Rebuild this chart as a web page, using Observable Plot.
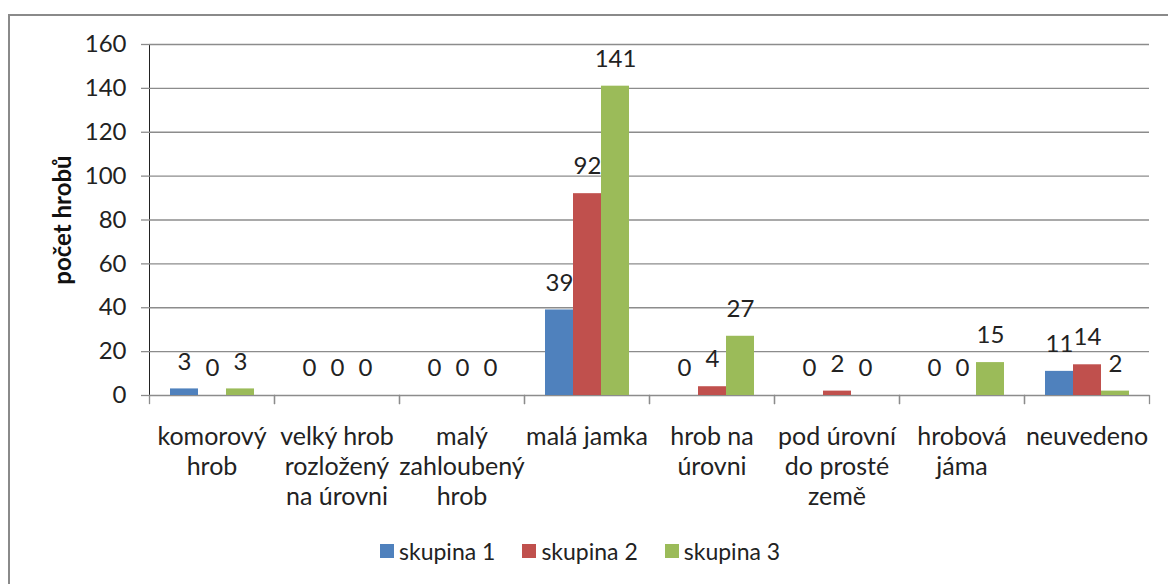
<!DOCTYPE html>
<html>
<head>
<meta charset="utf-8">
<script src="https://cdn.jsdelivr.net/npm/d3@7"></script>
<script src="https://cdn.jsdelivr.net/npm/@observablehq/plot@0.6"></script>
<style>
  html, body { margin: 0; padding: 0; background: #fff; overflow: hidden; }
  body { width: 1168px; height: 584px; position: relative; font-family: Lato, "Open Sans", sans-serif; }
  #frame { position: absolute; left: 8px; top: 14px; width: 1200px; height: 620px; border: 2px solid #8a8a8a; box-sizing: border-box; }
  #chart { position: absolute; left: 0; top: 0; }
  #ytitle { position: absolute; left: 61px; top: 220px; transform: translate(-50%, -50%) rotate(-90deg); white-space: nowrap; font-size: 24px; font-weight: bold; color: #111; }
  #legend { position: absolute; left: 380px; top: 537px; display: flex; align-items: center; font-size: 23px; color: #222; }
  .item { display: flex; align-items: center; margin-right: 27px; }
  .sw { width: 14px; height: 14px; margin-right: 5px; }
</style>
</head>
<body>
<div id="frame"></div>
<div id="chart"></div>
<div id="ytitle">počet hrobů</div>
<div id="legend"></div>
<script>
const categories = ["komorový hrob", "velký hrob rozložený na úrovni", "malý zahloubený hrob", "malá jamka", "hrob na úrovni", "pod úrovní do prosté země", "hrobová jáma", "neuvedeno"];
const categoryLabels = ["komorový\nhrob", "velký hrob\nrozložený\nna úrovni", "malý\nzahloubený\nhrob", "malá jamka", "hrob na\núrovni", "pod úrovní\ndo prosté\nzemě", "hrobová\njáma", "neuvedeno"];
const series = ["skupina 1", "skupina 2", "skupina 3"];
const skupina1 = [3, 0, 0, 39, 0, 0, 0, 11];
const skupina2 = [0, 0, 0, 92, 4, 2, 0, 14];
const skupina3 = [3, 0, 0, 141, 27, 0, 15, 2];
const colors = ["#4F81BD", "#C0504D", "#9BBB59"];
const yTicks = [0, 20, 40, 60, 80, 100, 120, 140, 160];

const values = [skupina1, skupina2, skupina3];
const data = [];
categories.forEach((c, i) => series.forEach((s, j) => data.push({category: c, series: s, value: values[j][i]})));
const labelOf = new Map(categories.map((c, i) => [c, categoryLabels[i]]));

const W = 1168, H = 525, mt = 44, mb = H - 395, ml = 148, mr = 18;
const grid = "#8c8c8c";

const chart = Plot.plot({
  width: W, height: H,
  marginTop: mt, marginBottom: mb, marginLeft: ml, marginRight: mr,
  style: {fontFamily: "Lato, 'Open Sans', sans-serif", fontSize: "24px", color: "#222", background: "transparent"},
  fx: {domain: categories, padding: 0, label: null, axis: null},
  x: {domain: series, paddingInner: 0, paddingOuter: 0.73, axis: null},
  y: {domain: [0, 160], label: null, ticks: yTicks, tickSize: 8, tickPadding: 15, line: true, tickFormat: d => d, fontSize: 24},
  color: {domain: series, range: colors},
  marks: [
    Plot.ruleY(yTicks, {stroke: grid, strokeWidth: 1.3}),
    Plot.frame({anchor: "left", stroke: grid, strokeWidth: 1.3, insetTop: H - mt - mb, insetBottom: -8}),
    Plot.frame({anchor: "right", stroke: grid, strokeWidth: 1.3, insetTop: H - mt - mb, insetBottom: -8}),
    Plot.barY(data, {fx: "category", x: "series", y: "value", fill: "series"}),
    Plot.text(data, {fx: "category", x: "series", y: "value", text: d => String(d.value), dy: -27, fill: "#222", fontSize: 24, lineAnchor: "middle"}),
    Plot.axisFx({anchor: "bottom", tickSize: 0, tickPadding: 28, fontSize: 25, lineHeight: 1.2, tickFormat: c => labelOf.get(c), label: null, fill: "#222"})
  ]
});
document.getElementById("chart").appendChild(chart);
d3.select(chart).selectAll("[aria-label='y-axis tick'] path, [aria-label='y-axis tick'], [aria-label='y-axis line'], [aria-label='y-axis line'] line").attr("stroke", grid).attr("stroke-width", 1.3);
d3.select(chart).selectAll("[aria-label='y-axis tick label']").attr("fill", "#222");

const legend = document.getElementById("legend");
series.forEach((s, i) => {
  const it = document.createElement("div");
  it.className = "item";
  it.innerHTML = `<span class="sw" style="background:${colors[i]}"></span><span>${s}</span>`;
  legend.appendChild(it);
});
</script>
</body>
</html>
